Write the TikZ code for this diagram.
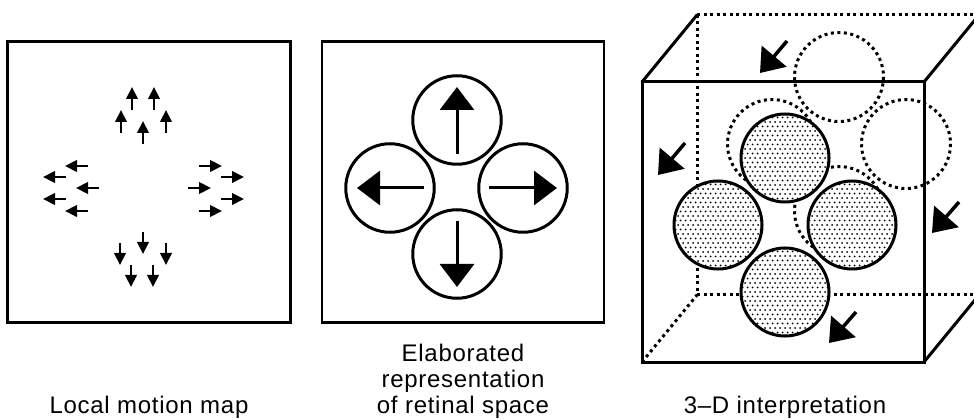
\documentclass[tikz,border=0pt]{standalone}
\usepackage{fontspec}
\setmainfont{Liberation Sans}[LetterSpace=3]
\usetikzlibrary{arrows.meta,calc}
\begin{document}
\begin{tikzpicture}[x=1pt,y=-1pt,
  panel/.style={draw,line width=2.5pt,inner sep=0pt,minimum width=283pt,minimum height=281pt},
  sarr/.style={line width=2.2pt,-{Triangle[length=12pt,width=11.5pt]}},
  marr/.style={line width=3pt,-{Triangle[length=23pt,width=34pt]}},
  barr/.style={line width=3.5pt,-{Triangle[length=22pt,width=32pt]}},
  solidedge/.style={line width=3pt,line join=miter,line cap=round},
  dotline/.style={line width=3pt,dash pattern=on 3pt off 3.5pt},
  ring/.style={line width=3pt},
  lbl/.style={font=\fontsize{24}{26}\selectfont,inner sep=0pt,anchor=base}
]
\useasboundingbox (0,0) rectangle (974,419);

% ---------- Panel 1: local motion map ----------
\node[panel] (p1) at (149,182) {};
% up
\draw[sarr] (132,110) -- (132,87);
\draw[sarr] (154,110) -- (154,87);
\draw[sarr] (121,133) -- (121,110);
\draw[sarr] (166,133) -- (166,110);
\draw[sarr] (143,144) -- (143,121);
% left
\draw[sarr] (88,166) -- (65,166);
\draw[sarr] (66,177) -- (43,177);
\draw[sarr] (99,188) -- (76,188);
\draw[sarr] (66,199) -- (43,199);
\draw[sarr] (88,211) -- (65,211);
% right
\draw[sarr] (199,166) -- (222,166);
\draw[sarr] (221,177) -- (244,177);
\draw[sarr] (188,188) -- (211,188);
\draw[sarr] (221,199) -- (244,199);
\draw[sarr] (199,211) -- (222,211);
% down
\draw[sarr] (143,232) -- (143,254);
\draw[sarr] (120,243) -- (120,265);
\draw[sarr] (166,243) -- (166,265);
\draw[sarr] (131,265) -- (131,287);
\draw[sarr] (153,265) -- (153,287);

% ---------- Panel 2: elaborated representation ----------
\node[panel,minimum width=282pt] (p2) at (463,182) {};
\node[draw,ring,circle,minimum size=88.5pt,inner sep=0pt] (cu) at (457,120) {};
\node[draw,ring,circle,minimum size=88.5pt,inner sep=0pt] (cl) at (390,188) {};
\node[draw,ring,circle,minimum size=88.5pt,inner sep=0pt] (cr) at (523,188) {};
\node[draw,ring,circle,minimum size=88.5pt,inner sep=0pt] (cd) at (457,254) {};
\draw[marr] ($(cu)+(0,34)$) -- ($(cu)+(0,-33)$);
\draw[marr] ($(cl)+(34,0)$) -- ($(cl)+(-33,0)$);
\draw[marr] ($(cr)+(-34,0)$) -- ($(cr)+(34,0)$);
\draw[marr] ($(cd)+(0,-33)$) -- ($(cd)+(0,33)$);

% ---------- Panel 3: 3-D interpretation ----------
\coordinate (fA) at (642,82);
\coordinate (fB) at (924,82);
\coordinate (fC) at (924,362);
\coordinate (fD) at (642,362);
\coordinate (bA) at (697,15);
\coordinate (bB) at (979,15);
\coordinate (bC) at (979,295);
\coordinate (bD) at (697,295);
% hidden edges
\draw[dotline] (bA) -- (bB);
\draw[dotline] (bA) -- (bD);
\draw[dotline] (bD) -- (bC);
\draw[dotline] (fD) -- (bD);
% back (dotted) circles
\coordinate (bt) at (839,77);
\coordinate (bl) at (772,144);
\coordinate (br) at (906,144);
\coordinate (bb) at (839,211);
\foreach \cc in {bt,bl,br,bb}{
  \draw[dotline] (\cc) circle[radius=44.5];
}
% front (stippled) circles
\coordinate (ft) at (785,158);
\coordinate (fl) at (718,225);
\coordinate (fr) at (852,225);
\coordinate (fb) at (785,292);
\foreach \cc in {ft,fl,fr,fb}{
  \fill[white] (\cc) circle[radius=44];
  \begin{scope}
    \clip (\cc) circle[radius=44];
    \foreach \r in {-10,...,10}{
      \pgfmathsetmacro\off{mod(\r+20,2)*2.5}
      \foreach \k in {-9,...,9}{
        \fill ($(\cc)+(\k*5+\off,\r*4.5)$) circle[radius=1.0];
      }
    }
  \end{scope}
  \draw[ring] (\cc) circle[radius=44];
}
% solid edges
\draw[solidedge] (fA) -- (fB) -- (fC) -- (fD) -- cycle;
\draw[solidedge] (fA) -- (bA);
\draw[solidedge] (fB) -- (bB);
\draw[solidedge] (fC) -- (bC);
% motion arrows
\draw[barr] (787,41) -- (760,73);
\draw[barr] (685,143) -- (658,175);
\draw[barr] (959,202) -- (932,233);
\draw[barr] (856,312) -- (829,343);

% ---------- labels ----------
\node[lbl] (t1) at (149,413) {Local motion map};
\node[lbl,align=center] (t2) at (463,413) {Elaborated\\representation\\of retinal space};
\node[lbl] (t3) at (785,413) {3--D interpretation};
\end{tikzpicture}
\end{document}
